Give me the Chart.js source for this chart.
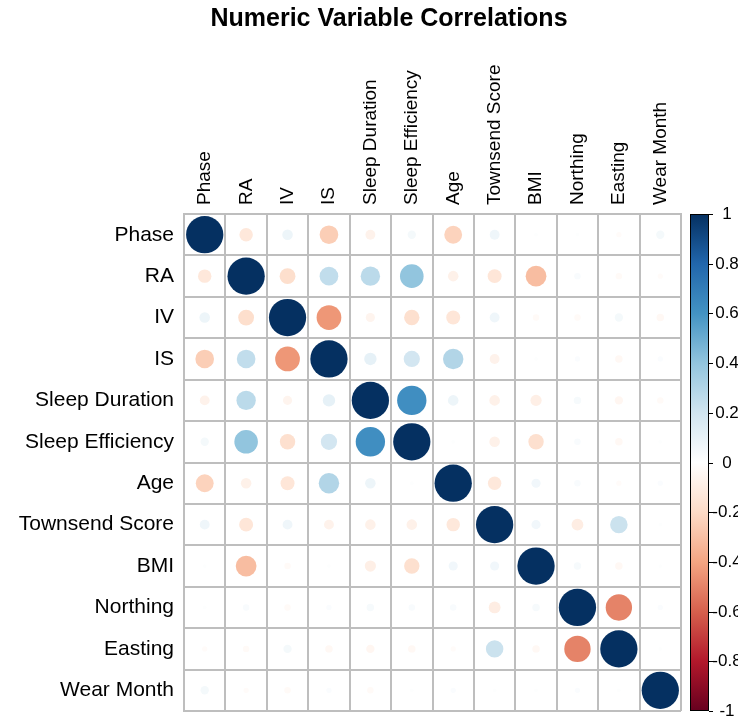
<!DOCTYPE html>
<html>
<head>
<meta charset="utf-8">
<script src="https://cdn.jsdelivr.net/npm/chart.js@4/dist/chart.umd.min.js"></script>
<style>
  html, body { margin: 0; padding: 0; background: #ffffff; }
  #wrap { width: 738px; height: 717px; }
</style>
</head>
<body>
<div id="wrap"><canvas id="corr" width="738" height="717"></canvas></div>
<script>
// Variable names (row/column order of the correlation matrix)
const variables = ['Phase', 'RA', 'IV', 'IS', 'Sleep Duration', 'Sleep Efficiency',
  'Age', 'Townsend Score', 'BMI', 'Northing', 'Easting', 'Wear Month'];

// Pearson correlations, one row per variable (same column order as above)
const rPhase      = [ 1.00, -0.13,  0.08, -0.25, -0.07,  0.05, -0.23,  0.07,  0.01,  0.01, -0.02,  0.05];
const rRA         = [-0.13,  1.00, -0.18,  0.25,  0.27,  0.40, -0.08, -0.14, -0.31,  0.03, -0.03, -0.02];
const rIV         = [ 0.08, -0.18,  1.00, -0.44, -0.06, -0.17, -0.14,  0.07, -0.03, -0.03,  0.05, -0.04];
const rIS         = [-0.25,  0.25, -0.44,  1.00,  0.11,  0.19,  0.30, -0.07,  0.01,  0.02, -0.04,  0.02];
const rSleepDur   = [-0.07,  0.27, -0.06,  0.11,  1.00,  0.62,  0.08, -0.08, -0.09,  0.04, -0.05, -0.03];
const rSleepEff   = [ 0.05,  0.40, -0.17,  0.19,  0.62,  1.00,  0.01, -0.08, -0.17,  0.03, -0.04,  0.01];
const rAge        = [-0.23, -0.08, -0.14,  0.30,  0.08,  0.01,  1.00, -0.13,  0.06,  0.03, -0.02,  0.02];
const rTownsend   = [ 0.07, -0.14,  0.07, -0.07, -0.08, -0.08, -0.13,  1.00,  0.06, -0.10,  0.22,  0.01];
const rBMI        = [ 0.01, -0.31, -0.03,  0.01, -0.09, -0.17,  0.06,  0.06,  1.00,  0.04, -0.04,  0.01];
const rNorthing   = [ 0.01,  0.03, -0.03,  0.02,  0.04,  0.03,  0.03, -0.10,  0.04,  1.00, -0.50,  0.02];
const rEasting    = [-0.02, -0.03,  0.05, -0.04, -0.05, -0.04, -0.02,  0.22, -0.04, -0.50,  1.00,  0.01];
const rWearMonth  = [ 0.05, -0.02, -0.03,  0.02, -0.03,  0.01,  0.02,  0.01,  0.01,  0.02,  0.01,  1.00];

// Colour legend ticks, top to bottom
const legendTicks = [1, 0.8, 0.6, 0.4, 0.2, 0, -0.2, -0.4, -0.6, -0.8, -1];

// Diverging red-blue palette, from -1 to +1
const rdbu = ['#67001F', '#B2182B', '#D6604D', '#F4A582', '#FDDBC7', '#FFFFFF',
  '#D1E5F0', '#92C5DE', '#4393C3', '#2166AC', '#053061'];

const matrix = [rPhase, rRA, rIV, rIS, rSleepDur, rSleepEff, rAge, rTownsend,
  rBMI, rNorthing, rEasting, rWearMonth];

function hexToRgb(h) {
  const n = parseInt(h.slice(1), 16);
  return [(n >> 16) & 255, (n >> 8) & 255, n & 255];
}
function colorFor(v) {
  const t = Math.max(0, Math.min(1, (v + 1) / 2)) * (rdbu.length - 1);
  const i = Math.min(rdbu.length - 2, Math.floor(t));
  const f = t - i;
  const a = hexToRgb(rdbu[i]), b = hexToRgb(rdbu[i + 1]);
  const c = a.map((x, k) => Math.round(x + (b[k] - x) * f));
  return `rgb(${c[0]},${c[1]},${c[2]})`;
}

const points = [];
matrix.forEach((row, i) => {
  row.forEach((v, j) => {
    points.push({ x: variables[j], y: variables[i], v: v });
  });
});

const FONT = "'Liberation Sans', Arial, Helvetica, sans-serif";
const GRID = '#bebebe';

// Title and colour legend drawn on top of the chart
const decorations = {
  id: 'decorations',
  afterDraw(chart) {
    const ctx = chart.ctx;
    const area = chart.chartArea;
    const cb = chart.scales.cb;
    ctx.save();
    // title
    ctx.fillStyle = '#000';
    ctx.font = `bold 25px ${FONT}`;
    ctx.textAlign = 'center';
    ctx.textBaseline = 'middle';
    ctx.fillText('Numeric Variable Correlations', 389, 19);

    // colour bar
    const x0 = area.right + 9, w = 19;
    const top = cb.getPixelForValue(1), bottom = cb.getPixelForValue(-1);
    const grad = ctx.createLinearGradient(0, bottom, 0, top);
    rdbu.forEach((c, k) => grad.addColorStop(k / (rdbu.length - 1), c));
    ctx.fillStyle = grad;
    ctx.fillRect(x0, top, w, bottom - top);
    ctx.strokeStyle = '#000';
    ctx.lineWidth = 1;
    ctx.strokeRect(x0 + 0.5, top + 0.5, w - 1, bottom - top - 1);

    ctx.font = `17px ${FONT}`;
    ctx.fillStyle = '#000';
    ctx.textAlign = 'center';
    ctx.textBaseline = 'middle';
    legendTicks.forEach(v => {
      const y = Math.round(cb.getPixelForValue(v)) + 0.5;
      ctx.beginPath();
      ctx.moveTo(x0 + w, y);
      ctx.lineTo(x0 + w + 4, y);
      ctx.stroke();
      ctx.fillText(String(v), x0 + w + 18, y);
    });
    ctx.restore();
  }
};

new Chart(document.getElementById('corr'), {
  type: 'bubble',
  data: {
    datasets: [{
      data: points,
      backgroundColor: ctx => colorFor(ctx.raw ? ctx.raw.v : 0),
      borderWidth: 0,
      radius: ctx => {
        if (!ctx.raw) return 0;
        const a = ctx.chart.chartArea;
        const cell = (a ? a.width : 497) / variables.length;
        return 0.45 * cell * Math.sqrt(Math.abs(ctx.raw.v));
      }
    }]
  },
  options: {
    responsive: false,
    animation: false,
    events: [],
    layout: { autoPadding: false, padding: { top: 0, right: 57, bottom: 6, left: 0 } },
    plugins: { legend: { display: false }, tooltip: { enabled: false }, title: { display: false } },
    scales: {
      x: {
        type: 'category',
        labels: variables,
        position: 'top',
        offset: true,
        grid: { offset: true, color: GRID, lineWidth: 2, drawTicks: false },
        border: { color: GRID, width: 2 },
        ticks: {
          autoSkip: false, minRotation: 90, maxRotation: 90, padding: 9, labelOffset: 23,
          color: '#000', font: { family: FONT, size: 19 }
        },
        afterFit: s => { s.height = 214; s.paddingLeft = 0; s.paddingRight = 0; }
      },
      y: {
        type: 'category',
        labels: variables,
        offset: true,
        grid: { offset: true, color: GRID, lineWidth: 2, drawTicks: false },
        border: { color: GRID, width: 2 },
        ticks: {
          autoSkip: false, padding: 10,
          color: '#000', font: { family: FONT, size: 21 }
        },
        afterFit: s => { s.width = 184; s.paddingTop = 0; s.paddingBottom = 0; }
      },
      cb: { type: 'linear', display: false, min: -1, max: 1, position: 'right' }
    }
  },
  plugins: [decorations]
});
</script>
</body>
</html>
